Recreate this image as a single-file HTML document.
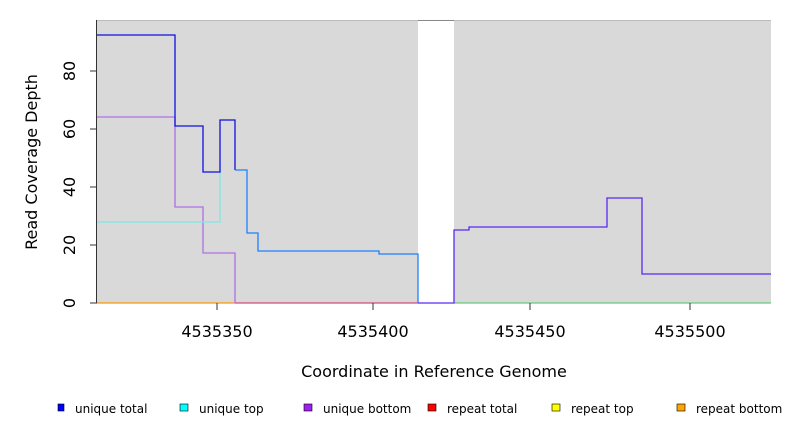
<!DOCTYPE html>
<html><head><meta charset="utf-8"><style>body{margin:0;background:#fff}svg{display:block}</style></head><body>
<svg width="792" height="432" xmlns="http://www.w3.org/2000/svg" font-family="DejaVu Sans, sans-serif">
<rect x="97" y="20" width="674" height="283" fill="#d9d9d9"/>
<rect x="418" y="20" width="36" height="283" fill="#fff"/>
<line x1="97" y1="20.5" x2="771" y2="20.5" stroke="#bbb"/>
<line x1="418" y1="20.5" x2="454" y2="20.5" stroke="#888"/>
<g fill="none" stroke-width="1.3">
<polyline stroke="#ff9900" points="97,303 235,303"/>
<polyline stroke="#d84a80" points="235,303 418,303"/>
<polyline stroke="#66cc77" points="454,303 771,303"/>
<polyline stroke="#b070e8" points="97,117 175,117 175,207 203,207 203,253 235,253 235,303"/>
<polyline stroke="#7fe6e6" points="97,222 220,222 220,170"/>
<polyline stroke="#1010e0" points="97,35 175,35 175,126 203,126 203,172 220,172 220,120 235,120 235,170"/>
<polyline stroke="#1e80ff" points="235,170 247,170 247,233 258,233 258,251 379,251 379,254 418,254 418,303"/>
<polyline stroke="#5a2af5" points="418,303 454,303 454,230 469,230 469,227 607,227 607,198 642,198 642,274 771,274"/>
</g>
<g stroke="#333">
<line x1="96.5" y1="20" x2="96.5" y2="303"/>
<line x1="90" y1="303" x2="97" y2="303"/><line x1="90" y1="245" x2="97" y2="245"/><line x1="90" y1="187" x2="97" y2="187"/><line x1="90" y1="129" x2="97" y2="129"/><line x1="90" y1="71" x2="97" y2="71"/>
<line x1="217" y1="303" x2="217" y2="310"/><line x1="373" y1="303" x2="373" y2="310"/><line x1="530" y1="303" x2="530" y2="310"/><line x1="690" y1="303" x2="690" y2="310"/>
</g>
<g font-size="16" fill="#000" text-anchor="middle">
<text transform="translate(75,303) rotate(-90)" dy="0">0</text>
<text transform="translate(75,245) rotate(-90)">20</text>
<text transform="translate(75,187) rotate(-90)">40</text>
<text transform="translate(75,129) rotate(-90)">60</text>
<text transform="translate(75,71) rotate(-90)">80</text>
<text x="217" y="337">4535350</text><text x="373" y="337">4535400</text><text x="530" y="337">4535450</text><text x="690" y="337">4535500</text>
<text x="434" y="377">Coordinate in Reference Genome</text>
<text transform="translate(37,162) rotate(-90)">Read Coverage Depth</text>
</g>
<g font-size="12" fill="#000" stroke="#000" stroke-width="0.6">
<rect x="58" y="404" width="6" height="7" fill="#0000ff"/>
<rect x="180" y="404" width="8" height="7" fill="#00ffff"/>
<rect x="304" y="404" width="8" height="7" fill="#a020f0"/>
<rect x="428" y="404" width="8" height="7" fill="#ff0000"/>
<rect x="552" y="404" width="8" height="7" fill="#ffff00"/>
<rect x="677" y="404" width="8" height="7" fill="#ffa500"/>
</g>
<g font-size="12" fill="#000">
<text x="75" y="413">unique total</text><text x="199" y="413">unique top</text><text x="323" y="413">unique bottom</text><text x="447" y="413">repeat total</text><text x="571" y="413">repeat top</text><text x="696" y="413">repeat bottom</text>
</g>
</svg>
</body></html>
